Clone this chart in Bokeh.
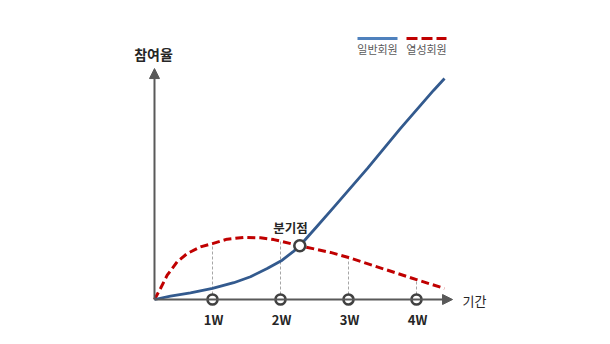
from bokeh.plotting import figure
from bokeh.models import Range1d, Label, Arrow, NormalHead
from bokeh.embed import file_html
from bokeh.resources import INLINE

# ---- data (weeks on x, relative participation on y) ----
week_ticks = [1, 2, 3, 4]
tick_labels = ["1W", "2W", "3W", "4W"]

regular_x = [0.147, 0.382, 0.676, 1.0, 1.313, 1.559, 1.804, 2.025, 2.196, 2.284,
             2.529, 2.779, 3.279, 3.765, 4.25, 4.412]
regular_y = [0.0, 1.5, 3.0, 5.0, 7.6, 10.3, 14.0, 17.8, 21.9, 24.3,
             32.8, 41.6, 59.3, 77.4, 94.6, 100.0]

active_x = [0.147, 0.235, 0.334, 0.481, 0.628, 0.824, 1.0, 1.216, 1.46, 1.706, 1.90,
            2.0, 2.284, 2.735, 3.0, 3.5, 4.0, 4.41]
active_y = [0.0, 5.0, 11.0, 17.1, 20.8, 23.8, 25.3, 27.3, 28.1, 27.9, 27.1,
            26.4, 24.3, 21.3, 19.0, 14.0, 9.0, 5.0]

break_x = [2.284]
break_y = [24.3]

axis_origin_x = 0.147
axis_x_end = 4.53
axis_y_end = 104.5

y_title = "참여율"
x_title = "기간"
break_label = "분기점"
series_names = ["일반회원", "열성회원"]

# ---- layout helpers (pixel -> data) ----
X0_PX, X_SCALE = 144.0, 68.0
Y0_PX, Y_SCALE = 299.0, 2.21


def dx(px):
    return (px - X0_PX) / X_SCALE


def dy(py):
    return (Y0_PX - py) / Y_SCALE


W, H = 610, 344
p = figure(width=W, height=H, output_backend="svg", toolbar_location=None,
           x_range=Range1d(dx(0), dx(W)), y_range=Range1d(dy(H), dy(0)),
           min_border=0, outline_line_color=None)
p.axis.visible = False
p.grid.visible = False
p.background_fill_color = "white"
p.border_fill_color = "white"

AXIS_COL = "#595959"
BLUE = "#335A8E"
RED = "#C00000"
KR = "Noto Sans CJK KR"

# guide lines from ticks to active curve
for w in week_ticks:
    yv = active_y[active_x.index(w)]
    p.segment(x0=[w], y0=[0], x1=[w], y1=[yv], line_color="#A6A6A6",
              line_width=1, line_dash="3 2")

# axes with arrows
p.add_layout(Arrow(end=NormalHead(size=10, fill_color=AXIS_COL, line_color=AXIS_COL),
                   x_start=axis_origin_x, y_start=0, x_end=axis_x_end, y_end=0,
                   line_color=AXIS_COL, line_width=2))
p.add_layout(Arrow(end=NormalHead(size=10, fill_color=AXIS_COL, line_color=AXIS_COL),
                   x_start=axis_origin_x, y_start=0, x_end=axis_origin_x, y_end=axis_y_end,
                   line_color=AXIS_COL, line_width=2))

# curves
p.line(active_x, active_y, line_color=RED, line_width=3, line_dash="8 4",
       line_join="round")
p.line(regular_x, regular_y, line_color=BLUE, line_width=2.8, line_join="round")

# markers
p.scatter(week_ticks, [0] * len(week_ticks), size=10, fill_color="white",
          line_color="#404040", line_width=2.6)
p.scatter(break_x, break_y, size=11, fill_color="white",
          line_color="#404040", line_width=2.6)

# texts
for w, lab in zip(week_ticks, tick_labels):
    p.add_layout(Label(x=w + dx(213) - 1, y=dy(319), text=lab, text_align="center",
                       text_baseline="middle", text_font=KR, text_font_style="bold",
                       text_font_size="13px", text_color="#262626"))

p.add_layout(Label(x=dx(153), y=dy(53), text=y_title, text_align="center",
                   text_baseline="middle", text_font=KR, text_font_style="bold",
                   text_font_size="14px", text_color="#262626"))
p.add_layout(Label(x=dx(474), y=dy(300), text=x_title, text_align="center",
                   text_baseline="middle", text_font=KR,
                   text_font_size="13px", text_color="#262626"))
p.add_layout(Label(x=dx(290), y=dy(227), text=break_label, text_align="center",
                   text_baseline="middle", text_font=KR, text_font_style="bold",
                   text_font_size="12.5px", text_color="#262626"))

# legend (custom: line above label)
p.line([dx(357), dx(397)], [dy(38), dy(38)], line_color="#4F81BD", line_width=3)
p.line([dx(406), dx(446)], [dy(38), dy(38)], line_color=RED, line_width=3, line_dash="11 4")
p.add_layout(Label(x=dx(377), y=dy(48), text=series_names[0], text_align="center",
                   text_baseline="middle", text_font=KR, text_font_size="11px",
                   text_color="#595959"))
p.add_layout(Label(x=dx(426), y=dy(48), text=series_names[1], text_align="center",
                   text_baseline="middle", text_font=KR, text_font_size="11px",
                   text_color="#595959"))

open("out.html", "w").write(file_html(p, INLINE))
